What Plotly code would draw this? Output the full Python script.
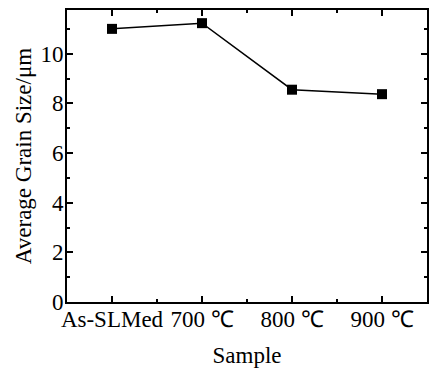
import plotly.graph_objects as go

samples = ["As-SLMed", "700 ℃", "800 ℃", "900 ℃"]
grain_size = [11.0, 11.23, 8.55, 8.37]
y_ticks = [0, 2, 4, 6, 8, 10]

xpos = list(range(len(samples)))

font = "Liberation Serif"
fig = go.Figure()
fig.add_trace(go.Scatter(
    x=xpos, y=grain_size, mode="lines+markers",
    line=dict(color="black", width=1.5),
    marker=dict(symbol="square", size=10, color="black"),
    showlegend=False,
))

fig.update_layout(
    width=430, height=369,
    margin=dict(l=67, r=1, t=10, b=67),
    paper_bgcolor="white", plot_bgcolor="white",
    font=dict(family=font, size=23, color="black"),
    xaxis=dict(
        range=[-0.5, 3.5], tickvals=xpos, ticktext=samples,
        showline=True, linecolor="black", linewidth=2, mirror="allticks",
        ticks="inside", ticklen=6, tickwidth=1.5, tickcolor="black",
        minor=dict(tick0=0.5, dtick=1, ticks="inside", ticklen=3, tickwidth=1.5, tickcolor="black"),
        showgrid=False, zeroline=False,
        ticklabelstandoff=-5,
        title=dict(text="Sample", standoff=16, font=dict(family=font, size=23)),
        tickfont=dict(family=font, size=23, color="black"),
    ),
    yaxis=dict(
        range=[0, 11.76], tickvals=y_ticks,
        showline=True, linecolor="black", linewidth=2, mirror="allticks",
        ticks="inside", ticklen=6, tickwidth=1.5, tickcolor="black",
        minor=dict(tick0=1, dtick=2, ticks="inside", ticklen=3, tickwidth=1.5, tickcolor="black"),
        showgrid=False, zeroline=False,
        ticklabelstandoff=-3,
        title=dict(text="Average Grain Size/μm", standoff=2, font=dict(family=font, size=23)),
        tickfont=dict(family=font, size=23, color="black"),
    ),
)
fig.write_html("out.html")
